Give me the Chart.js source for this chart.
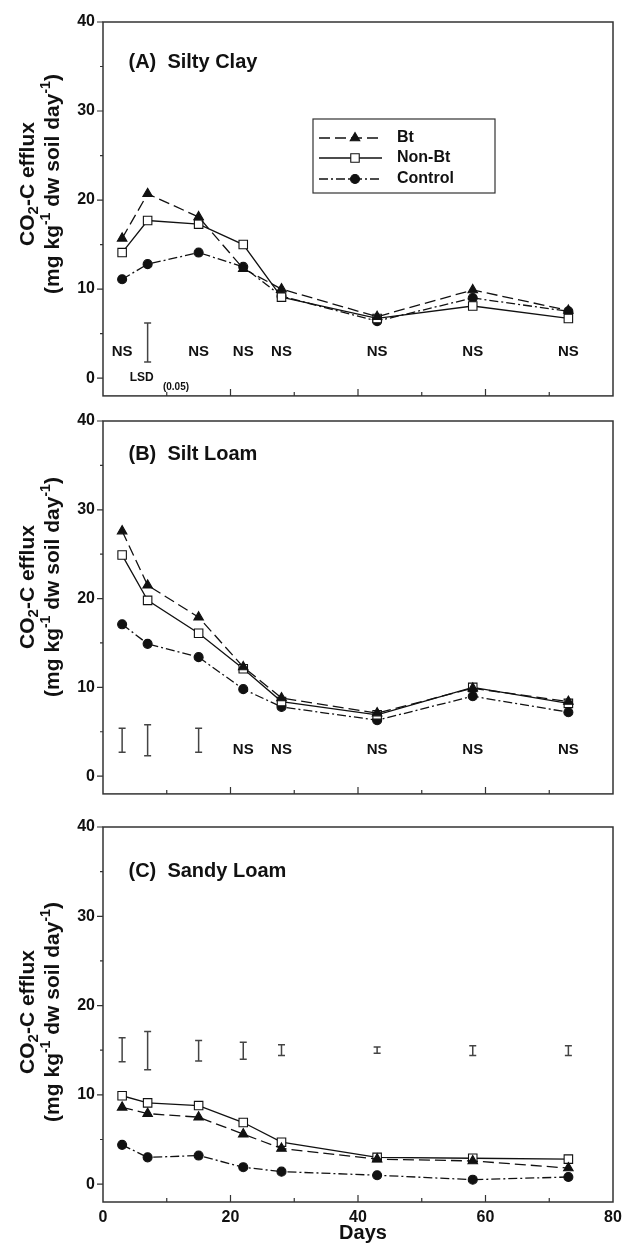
<!DOCTYPE html>
<html>
<head>
<meta charset="utf-8">
<script src="https://cdn.jsdelivr.net/npm/chart.js@4.4.1/dist/chart.umd.min.js"></script>
<style>
  body { margin: 0; background: #fff; }
  #wrap { position: relative; width: 624px; height: 1252px; }
  canvas { position: absolute; left: 0; }
</style>
</head>
<body>
<div id="wrap">
  <canvas id="chartA" width="624" height="403" style="top:0"></canvas>
  <canvas id="chartB" width="624" height="401" style="top:400px"></canvas>
  <canvas id="chartC" width="624" height="452" style="top:800px"></canvas>
</div>
<script>
const FONT = "'Liberation Sans', Arial, Helvetica, sans-serif";
const INK = "#111";

const days = [3, 7, 15, 22, 28, 43, 58, 73];
const xTicks = [0, 20, 40, 60, 80];
const yTicks = [0, 10, 20, 30, 40];
const seriesNames = ["Bt", "Non-Bt", "Control"];

// (A) Silty Clay
const btA      = [15.7, 20.7, 18.1, 12.3, 10.0, 6.9, 9.9, 7.6];
const nonBtA   = [14.1, 17.7, 17.3, 15.0, 9.1, 6.7, 8.1, 6.7];
const controlA = [11.1, 12.8, 14.1, 12.5, 9.2, 6.4, 9.0, 7.5];
const nsA = [3, 15, 22, 28, 43, 58, 73];
const lsdDaysA = [7];
const lsdLowA  = [1.8];
const lsdHighA = [6.2];

// (B) Silt Loam
const btB      = [27.6, 21.5, 17.9, 12.3, 8.8, 7.1, 9.9, 8.4];
const nonBtB   = [24.9, 19.8, 16.1, 12.1, 8.4, 6.9, 10.0, 8.2];
const controlB = [17.1, 14.9, 13.4, 9.8, 7.8, 6.3, 9.0, 7.2];
const nsB = [22, 28, 43, 58, 73];
const lsdDaysB = [3, 7, 15];
const lsdLowB  = [2.7, 2.3, 2.7];
const lsdHighB = [5.4, 5.8, 5.4];

// (C) Sandy Loam
const btC      = [8.6, 7.9, 7.5, 5.6, 4.0, 2.8, 2.6, 1.8];
const nonBtC   = [9.9, 9.1, 8.8, 6.9, 4.7, 3.0, 2.9, 2.8];
const controlC = [4.4, 3.0, 3.2, 1.9, 1.4, 1.0, 0.5, 0.8];
const nsC = [];
const lsdDaysC = [3, 7, 15, 22, 28, 43, 58, 73];
const lsdLowC  = [13.7, 12.8, 13.8, 14.0, 14.4, 14.65, 14.4, 14.4];
const lsdHighC = [16.4, 17.1, 16.1, 15.9, 15.6, 15.35, 15.5, 15.5];

const styles = [
  { dash: [11, 5], point: "triangle", r: 5.5, fill: INK },
  { dash: [], point: "rect", r: 6, fill: "#fff" },
  { dash: [9, 3, 2, 3], point: "circle", r: 4.5, fill: INK }
];

function bold(size) { return "bold " + size + "px " + FONT; }

// rotated text made of pieces (for sub/superscripts)
function drawRich(ctx, parts, cx, cy) {
  let w = 0;
  parts.forEach(p => { ctx.font = bold(p[1]); w += ctx.measureText(p[0]).width; });
  ctx.save();
  ctx.translate(cx, cy);
  ctx.rotate(-Math.PI / 2);
  ctx.textAlign = "left";
  ctx.textBaseline = "middle";
  let x = -w / 2;
  parts.forEach(p => {
    ctx.font = bold(p[1]);
    ctx.fillText(p[0], x, p[2]);
    x += ctx.measureText(p[0]).width;
  });
  ctx.restore();
}

const yTitle1 = [["CO", 21, 0], ["2", 15, 6], ["-C efflux", 21, 0]];
const yTitle2 = [["(mg kg", 21, 0], ["-1", 14, -7], [" dw soil day", 21, 0], ["-1", 14, -7], [")", 21, 0]];

function decor(cfg) {
  return {
    id: "decor",
    afterDraw(chart) {
      const ctx = chart.ctx, a = chart.chartArea;
      const xs = chart.scales.x, ys = chart.scales.y;
      ctx.save();
      ctx.fillStyle = INK;
      ctx.strokeStyle = "#333";

      // frame
      ctx.lineWidth = 1.5;
      ctx.strokeRect(a.left, a.top, a.right - a.left, a.bottom - a.top);

      // ticks: y outward, x inward
      ctx.lineWidth = 1.2;
      ctx.beginPath();
      for (let v = 0; v <= 40; v += 5) {
        const y = ys.getPixelForValue(v);
        const l = v % 10 ? 3 : 6;
        ctx.moveTo(a.left - l, y); ctx.lineTo(a.left, y);
      }
      for (let v = 10; v < 80; v += 10) {
        const x = xs.getPixelForValue(v);
        const l = v % 20 ? 4 : 7;
        ctx.moveTo(x, a.bottom); ctx.lineTo(x, a.bottom - l);
      }
      ctx.stroke();

      // LSD bars
      ctx.strokeStyle = "#444";
      ctx.lineWidth = 1.5;
      ctx.beginPath();
      cfg.lsdDays.forEach((d, i) => {
        const x = xs.getPixelForValue(d);
        const y1 = ys.getPixelForValue(cfg.lsdLow[i]);
        const y2 = ys.getPixelForValue(cfg.lsdHigh[i]);
        ctx.moveTo(x, y1); ctx.lineTo(x, y2);
        ctx.moveTo(x - 3.5, y1); ctx.lineTo(x + 3.5, y1);
        ctx.moveTo(x - 3.5, y2); ctx.lineTo(x + 3.5, y2);
      });
      ctx.stroke();

      // NS labels
      ctx.textAlign = "center";
      ctx.textBaseline = "middle";
      ctx.font = bold(15);
      cfg.ns.forEach(d => ctx.fillText("NS", xs.getPixelForValue(d), ys.getPixelForValue(3.0)));

      // panel title
      ctx.textAlign = "left";
      ctx.font = bold(20);
      ctx.fillText(cfg.title, xs.getPixelForValue(4), ys.getPixelForValue(cfg.titleY));

      // y title
      drawRich(ctx, yTitle1, 28, cfg.yTitleY);
      drawRich(ctx, yTitle2, 53, cfg.yTitleY);

      if (cfg.lsdText) {
        ctx.font = bold(12);
        ctx.fillText("LSD", xs.getPixelForValue(4.2), ys.getPixelForValue(0));
        ctx.font = bold(10);
        ctx.fillText("(0.05)", xs.getPixelForValue(9.4), ys.getPixelForValue(-1.0));
      }

      if (cfg.legend) {
        const lx = 313, ly = 119, lw = 182, lh = 74;
        const rows = [138, 158, 179];
        ctx.strokeStyle = "#333";
        ctx.lineWidth = 1.2;
        ctx.strokeRect(lx, ly, lw, lh);
        rows.forEach((y, i) => {
          const s = styles[i];
          ctx.strokeStyle = INK;
          ctx.lineWidth = 1.3;
          ctx.setLineDash(s.dash);
          ctx.beginPath();
          ctx.moveTo(319, y); ctx.lineTo(382, y);
          ctx.stroke();
          ctx.setLineDash([]);
          ctx.fillStyle = s.fill;
          ctx.lineWidth = 1.1;
          Chart.helpers.drawPoint(ctx, { pointStyle: s.point, radius: s.r, rotation: 0, borderWidth: 1.1 }, 355, y);
          ctx.fillStyle = INK;
          ctx.font = bold(16);
          ctx.textAlign = "left";
          ctx.fillText(seriesNames[i], 397, y);
        });
      }

      if (cfg.showX) {
        ctx.textAlign = "center";
        ctx.font = bold(20);
        ctx.fillText("Days", (a.left + a.right) / 2 + 5, a.bottom + 31);
      }
      ctx.restore();
    }
  };
}

function makePanel(id, series, cfg) {
  const datasets = series.map((vals, i) => ({
    label: seriesNames[i],
    data: days.map((d, j) => ({ x: d, y: vals[j] })),
    borderColor: INK,
    borderWidth: 1.3,
    borderDash: styles[i].dash,
    pointStyle: styles[i].point,
    pointRadius: styles[i].r,
    pointBackgroundColor: styles[i].fill,
    pointBorderColor: INK,
    pointBorderWidth: 1.1,
    tension: 0,
    fill: false
  }));
  return new Chart(document.getElementById(id), {
    type: "line",
    data: { datasets },
    options: {
      responsive: false,
      animation: false,
      devicePixelRatio: 1,
      layout: { padding: { top: cfg.padTop, right: 11, bottom: cfg.padBottom, left: 0 } },
      plugins: { legend: { display: false }, tooltip: { enabled: false } },
      scales: {
        x: {
          type: "linear", min: 0, max: 80,
          grid: { display: false, drawTicks: false }, border: { display: false },
          afterBuildTicks: s => { s.ticks = xTicks.map(v => ({ value: v })); },
          ticks: { display: cfg.showX, color: INK, font: { family: FONT, size: 16, weight: "bold" }, padding: 6, maxRotation: 0 },
          afterFit: s => { s.height = cfg.xHeight; s.paddingLeft = 0; s.paddingRight = 0; }
        },
        y: {
          min: -2, max: 40,
          grid: { display: false, drawTicks: false }, border: { display: false },
          afterBuildTicks: s => { s.ticks = yTicks.map(v => ({ value: v })); },
          ticks: { color: INK, font: { family: FONT, size: 16, weight: "bold" }, padding: 8 },
          afterFit: s => { s.width = 103; s.paddingTop = 0; s.paddingBottom = 0; }
        }
      }
    },
    plugins: [decor(cfg)]
  });
}

makePanel("chartA", [btA, nonBtA, controlA], {
  padTop: 22, padBottom: 0, xHeight: 0, showX: false,
  title: "(A)  Silty Clay", titleY: 35.4, yTitleY: 184,
  ns: nsA, lsdDays: lsdDaysA, lsdLow: lsdLowA, lsdHigh: lsdHighA,
  lsdText: true, legend: true
});
makePanel("chartB", [btB, nonBtB, controlB], {
  padTop: 21, padBottom: 0, xHeight: 0, showX: false,
  title: "(B)  Silt Loam", titleY: 36.2, yTitleY: 187,
  ns: nsB, lsdDays: lsdDaysB, lsdLow: lsdLowB, lsdHigh: lsdHighB
});
makePanel("chartC", [btC, nonBtC, controlC], {
  padTop: 27, padBottom: 0, xHeight: 50, showX: true,
  title: "(C)  Sandy Loam", titleY: 35.0, yTitleY: 212,
  ns: nsC, lsdDays: lsdDaysC, lsdLow: lsdLowC, lsdHigh: lsdHighC
});
</script>
</body>
</html>
